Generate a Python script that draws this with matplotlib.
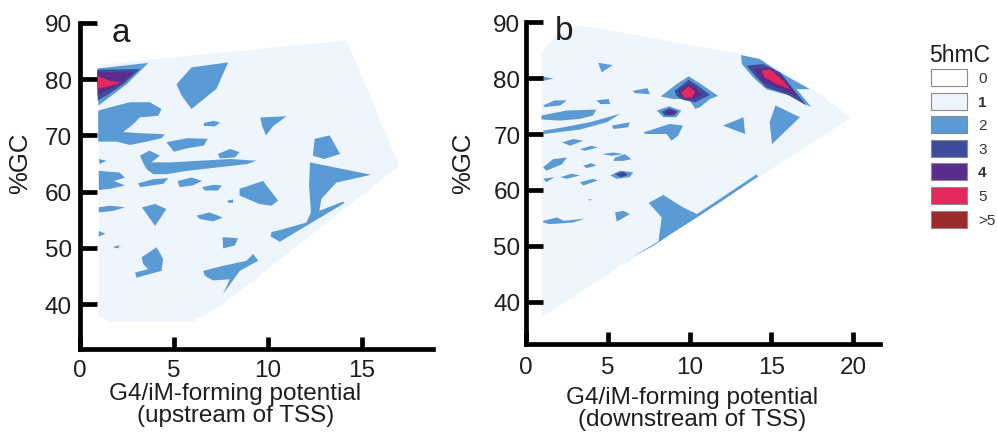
import matplotlib
matplotlib.use("Agg")
import matplotlib.pyplot as plt
from matplotlib.patches import Polygon, Rectangle

plt.rcParams["font.family"] = ["Liberation Sans", "DejaVu Sans"]
INK = "#1e1e1e"

# 5hmC level colours (0, 1, 2, 3, 4, 5, >5)
LEGEND_LABELS = ["0", "1", "2", "3", "4", "5", ">5"]
LEGEND_COLORS = ["#ffffff", "#eef5fc", "#5b9bd5", "#3f4c9d", "#5a2d8c", "#e2285c", "#9c2a2a"]
LEGEND_BOLD = ["1", "4"]

X_TICKS_A = [0, 5, 10, 15]
X_TICKS_B = [0, 5, 10, 15, 20]
Y_TICKS = [40, 50, 60, 70, 80, 90]

# ---------------- panel a (upstream of TSS) ----------------
HULL_A = [(1.0, 82.6), (14.2, 86.9), (17.0, 64.6), (7.5, 39.7), (6.0, 36.9),
          (1.6, 36.9), (1.0, 37.9)]

LEVEL2_A = [
    [(0.92, 81.9), (3.64, 82.9), (2.48, 79.1), (0.98, 75.3)],
    [(5.14, 79.1), (5.94, 82.1), (7.89, 83.0), (7.27, 78.3), (5.94, 74.7), (5.41, 77.1)],
    [(0.97, 74.4), (1.60, 75.0), (2.66, 75.9), (3.72, 75.9), (4.34, 74.7), (4.17, 73.5),
     (3.19, 73.2), (2.84, 72.0), (2.30, 70.6), (3.19, 70.4), (4.52, 70.2), (4.34, 69.5),
     (3.55, 68.9), (2.66, 68.3), (1.95, 68.9), (0.97, 68.9)],
    [(4.6, 68.8), (5.7, 69.5), (6.8, 69.4), (6.6, 68.2), (5.7, 67.7), (5.0, 67.1)],
    [(6.6, 72.2), (7.1, 72.6), (7.45, 72.3), (7.2, 71.6), (6.6, 71.7)],
    [(9.6, 73.2), (11.0, 73.4), (10.3, 71.7), (9.9, 70.0), (9.7, 71.7)],
    [(7.35, 66.7), (8.0, 67.6), (8.5, 67.0), (8.25, 66.1), (7.45, 65.9)],
    [(3.2, 66.4), (3.7, 67.3), (4.25, 66.4), (3.8, 65.2), (4.8, 65.2), (6.4, 65.5),
     (8.0, 65.8), (9.4, 65.5), (8.9, 64.9), (7.3, 64.3), (5.7, 63.7), (4.6, 63.1),
     (3.9, 63.1), (3.55, 64.0), (3.35, 65.2)],
    [(1.0, 65.8), (1.4, 65.5), (1.05, 64.9)],
    [(1.0, 63.7), (2.1, 63.4), (2.4, 62.5), (1.8, 61.9), (2.4, 61.1), (1.6, 60.5), (1.0, 60.3)],
    [(3.1, 61.5), (3.9, 62.2), (4.7, 62.4), (4.45, 61.4), (3.2, 60.8)],
    [(5.2, 61.9), (5.95, 62.5), (6.5, 61.9), (6.0, 61.1), (5.3, 60.8)],
    [(6.5, 60.8), (7.1, 61.2), (7.55, 61.1), (7.35, 60.2), (6.65, 60.2)],
    [(12.5, 69.4), (13.3, 70.0), (13.85, 66.7), (13.0, 65.8), (12.4, 66.4)],
    [(12.25, 65.2), (15.5, 63.0), (13.65, 61.6), (12.85, 58.7), (12.75, 56.6), (14.0, 58.2),
     (14.1, 58.0), (12.6, 55.0), (11.7, 53.2), (10.65, 51.1), (10.15, 52.0), (10.2, 52.8),
     (10.8, 53.3), (12.05, 54.5), (12.3, 56.3), (12.2, 61.1)],
    [(8.5, 60.5), (9.75, 61.9), (10.55, 58.4), (10.2, 57.5), (9.55, 57.8), (8.5, 59.3)],
    [(7.85, 58.4), (8.15, 58.6), (8.15, 58.0), (7.9, 58.0)],
    [(1.0, 57.2), (1.6, 57.5), (2.4, 57.2), (1.8, 56.6), (1.0, 56.3)],
    [(3.3, 57.2), (4.0, 57.8), (4.6, 56.9), (4.0, 53.9), (3.55, 56.0)],
    [(6.2, 55.7), (6.9, 56.3), (7.6, 55.4), (7.1, 54.7), (6.4, 55.1)],
    [(1.0, 53.0), (1.35, 52.5), (1.0, 52.0)],
    [(1.74, 50.1), (2.09, 50.5), (2.04, 49.9)],
    [(7.59, 51.9), (8.42, 51.7), (8.24, 50.4), (7.62, 49.9)],
    [(3.28, 48.3), (4.08, 50.1), (4.43, 48.0), (4.34, 45.9), (3.01, 44.7), (2.93, 45.6),
     (3.63, 46.2), (3.37, 47.1)],
    [(6.56, 45.9), (7.62, 46.8), (8.87, 47.7), (9.22, 48.9), (9.49, 47.7), (8.51, 45.9),
     (7.62, 41.8), (7.98, 44.4), (7.09, 44.2), (6.65, 45.0)],
]
LEVEL3_A = [[(0.92, 81.7), (3.19, 81.8), (2.30, 79.1), (1.42, 77.1), (0.94, 76.2)]]
LEVEL4_A = [[(0.92, 81.3), (2.84, 81.2), (2.13, 79.1), (1.24, 77.7), (0.94, 77.1)]]
LEVEL5_A = [[(0.92, 80.6), (1.6, 79.7), (2.22, 79.4), (1.6, 78.8), (0.92, 78.3)]]

# ---------------- panel b (downstream of TSS) ----------------
HULL_B = [(0.96, 84.6), (1.67, 87.3), (3.2, 89.5), (13.09, 84.3), (15.54, 81.6),
          (18.19, 76.8), (19.82, 72.8), (0.96, 37.3)]

LEVEL2_B = [
    [(0.96, 80.3), (1.67, 79.9), (1.06, 79.5)],
    [(4.42, 82.7), (5.30, 82.3), (4.63, 81.0)],
    [(6.52, 77.7), (7.42, 78.2), (7.58, 77.1), (6.67, 77.3)],
    [(8.25, 76.7), (9.2, 78.9), (9.95, 80.3), (10.55, 79.2), (11.75, 76.8), (11.25, 76.25),
     (10.65, 74.8), (10.35, 74.5), (9.95, 76.25), (9.0, 76.25)],
    [(13.15, 84.1), (14.3, 83.4), (15.35, 81.3), (17.35, 78.0), (16.55, 78.0), (17.45, 74.8),
     (16.15, 76.85), (14.7, 78.0), (13.9, 80.1), (13.2, 82.5)],
    [(8.0, 74.2), (8.75, 74.95), (9.5, 74.2), (9.2, 73.0), (8.4, 73.0)],
    [(7.2, 70.3), (8.8, 71.8), (9.6, 71.5), (9.3, 69.7), (8.9, 68.8), (8.6, 70.0), (7.3, 70.0)],
    [(1.05, 75.1), (1.75, 76.0), (2.5, 76.0), (2.1, 75.1), (1.15, 74.8)],
    [(4.3, 76.0), (5.05, 76.25), (5.15, 75.35), (4.55, 75.35)],
    [(0.95, 73.3), (2.5, 74.2), (4.3, 74.35), (4.1, 73.3), (3.3, 72.7), (2.1, 72.4), (0.95, 72.6)],
    [(1.05, 70.6), (2.3, 71.2), (3.9, 72.1), (5.75, 73.6), (4.95, 72.1), (3.3, 70.8),
     (1.65, 70.2), (1.1, 70.0)],
    [(5.25, 71.5), (6.35, 72.1), (6.25, 71.2), (5.35, 70.9)],
    [(2.2, 68.5), (2.9, 69.1), (3.5, 68.8), (2.7, 67.9)],
    [(3.3, 67.3), (4.0, 67.9), (4.4, 67.6), (3.6, 67.0)],
    [(4.65, 66.4), (5.35, 66.7), (5.95, 66.4), (5.25, 66.1)],
    [(5.45, 65.8), (6.05, 66.4), (6.45, 65.5), (5.95, 65.2), (5.35, 65.2)],
    [(1.05, 64.05), (1.65, 65.5), (2.5, 65.8), (2.2, 64.6), (1.25, 63.45)],
    [(3.5, 64.35), (4.0, 64.8), (4.3, 64.35), (3.7, 63.9)],
    [(5.15, 62.6), (5.75, 63.45), (6.55, 63.15), (6.35, 62.3), (5.55, 62.0)],
    [(2.1, 62.3), (2.8, 62.9), (3.3, 62.6), (2.5, 62.0)],
    [(3.3, 61.4), (4.1, 62.0), (4.4, 61.7), (3.5, 60.8)],
    [(1.05, 62.0), (1.75, 62.3), (1.25, 61.4)],
    [(3.8, 58.3), (4.05, 58.35), (3.9, 58.1)],
    [(1.05, 54.5), (1.9, 55.1), (2.3, 54.5), (3.6, 54.9), (2.9, 54.2), (1.45, 53.9), (1.05, 54.2)],
    [(5.45, 56.0), (5.95, 56.3), (6.35, 55.7), (5.55, 54.35)],
    [(7.5, 57.7), (8.4, 59.1), (9.6, 56.9), (10.45, 55.7), (11.85, 58.4), (14.1, 62.8),
     (14.2, 62.4), (11.85, 57.8), (10.45, 55.1), (9.0, 52.4), (7.8, 50.05), (6.45, 48.0),
     (8.1, 50.8), (8.3, 55.1)],
    [(12.05, 71.5), (13.3, 73.0), (13.4, 70.0)],
    [(15.25, 75.1), (16.75, 73.0), (15.05, 68.2), (14.9, 72.1)],
]
LEVEL3_B = [
    [(9.1, 77.7), (9.95, 79.7), (10.45, 78.75), (11.25, 77.0), (10.75, 76.25), (10.35, 75.65),
     (9.6, 76.1), (9.2, 76.8)],
    [(13.5, 82.2), (14.5, 82.5), (15.55, 81.0), (16.35, 78.0), (17.15, 75.1), (15.95, 77.1),
     (14.7, 78.3), (14.0, 80.4)],
    [(8.3, 74.0), (8.8, 74.6), (9.3, 74.0), (9.05, 73.3), (8.5, 73.3)],
    [(5.45, 62.9), (5.95, 63.3), (6.25, 62.7), (5.75, 62.3)],
]
LEVEL4_B = [
    [(9.3, 77.7), (9.95, 79.1), (10.45, 78.15), (10.75, 76.8), (10.15, 76.25), (9.6, 76.4)],
    [(13.9, 81.6), (14.8, 81.9), (15.75, 80.1), (16.65, 76.55), (15.55, 78.0), (14.5, 79.2)],
    [(8.55, 74.0), (8.9, 74.3), (9.15, 73.9), (8.9, 73.45), (8.65, 73.5)],
    [(5.8, 62.75), (6.0, 62.95), (6.05, 62.5), (5.8, 62.4)],
]
LEVEL5_B = [
    [(9.5, 77.4), (9.95, 78.5), (10.35, 77.55), (10.15, 76.5), (9.65, 76.5)],
    [(14.4, 81.3), (14.9, 81.6), (15.75, 79.5), (16.15, 78.0), (15.35, 78.9), (14.6, 80.1)],
]


def draw_panel(ax, hull, levels, xlim, ylim, xticks, xpad, ypad):
    ax.add_patch(Polygon(hull, closed=True, fc=LEGEND_COLORS[1], ec="none", lw=0))
    for k, polys in enumerate(levels):
        for p in polys:
            ax.add_patch(Polygon(p, closed=True, fc=LEGEND_COLORS[k + 2], ec="none", lw=0))
    ax.set_xlim(*xlim)
    ax.set_ylim(*ylim)
    ax.set_xticks(xticks)
    ax.set_yticks(Y_TICKS)
    ax.spines[["top", "right"]].set_visible(False)
    for s in ("left", "bottom"):
        ax.spines[s].set_linewidth(3.4)
        ax.spines[s].set_color("black")
        ax.spines[s].set_capstyle("projecting")
    ax.tick_params(axis="y", direction="in", length=12, width=3.4, pad=ypad,
                   labelsize=17.5, labelcolor=INK)
    ax.tick_params(axis="x", direction="in", length=9, width=3.4, pad=xpad,
                   labelsize=17.5, labelcolor=INK)
    ax.set_ylabel("%GC", fontsize=18.5, color=INK)


fig = plt.figure(figsize=(9.97, 4.35), dpi=100)

ax_a = fig.add_axes([80 / 997, 85 / 435, 353 / 997, 326 / 435])
draw_panel(ax_a, HULL_A, [LEVEL2_A, LEVEL3_A, LEVEL4_A, LEVEL5_A],
           (0, 18.8), (32, 90), X_TICKS_A, 7, 6)
ax_a.yaxis.set_label_coords(-0.136, 0.574)
ax_a.set_xlabel("G4/iM-forming potential\n(upstream of TSS)", fontsize=17.5,
                color=INK, linespacing=1.0)
ax_a.xaxis.set_label_coords(0.44, -0.10)
ax_a.xaxis.label.set_va("top")

ax_b = fig.add_axes([526 / 997, 90 / 435, 354 / 997, 322 / 435])
draw_panel(ax_b, HULL_B, [LEVEL2_B, LEVEL3_B, LEVEL4_B, LEVEL5_B],
           (0, 21.65), (32.5, 90), X_TICKS_B, 9, 4)
ax_b.yaxis.set_label_coords(-0.144, 0.565)
ax_b.set_xlabel("G4/iM-forming potential\n(downstream of TSS)", fontsize=17.5,
                color=INK, linespacing=1.0)
ax_b.xaxis.set_label_coords(0.469, -0.13)
ax_b.xaxis.label.set_va("top")

fig.text(112 / 997, 1 - 42 / 435, "a", fontsize=24, color=INK, va="baseline")
fig.text(555 / 997, 1 - 40 / 435, "b", fontsize=24, color=INK, va="baseline")

# legend drawn in a pixel-like coordinate frame
lg = fig.add_axes([925 / 997, 0, 72 / 997, 1])
lg.set_xlim(925, 997)
lg.set_ylim(435, 0)
lg.axis("off")
lg.text(929, 55, "5hmC", fontsize=16.5, color=INK, va="center", ha="left")
for i, (lab, col) in enumerate(zip(LEGEND_LABELS, LEGEND_COLORS)):
    top = 70 + i * 23.6
    lg.add_patch(Rectangle((931, top), 36, 17, fc=col, ec="#8a8a8a", lw=0.8))
    lg.text(978, top + 9, lab, fontsize=11, color="#333333", va="center", ha="left",
            fontweight="bold" if lab in LEGEND_BOLD else "normal")

fig.savefig("out.png", dpi=100, facecolor="white")
